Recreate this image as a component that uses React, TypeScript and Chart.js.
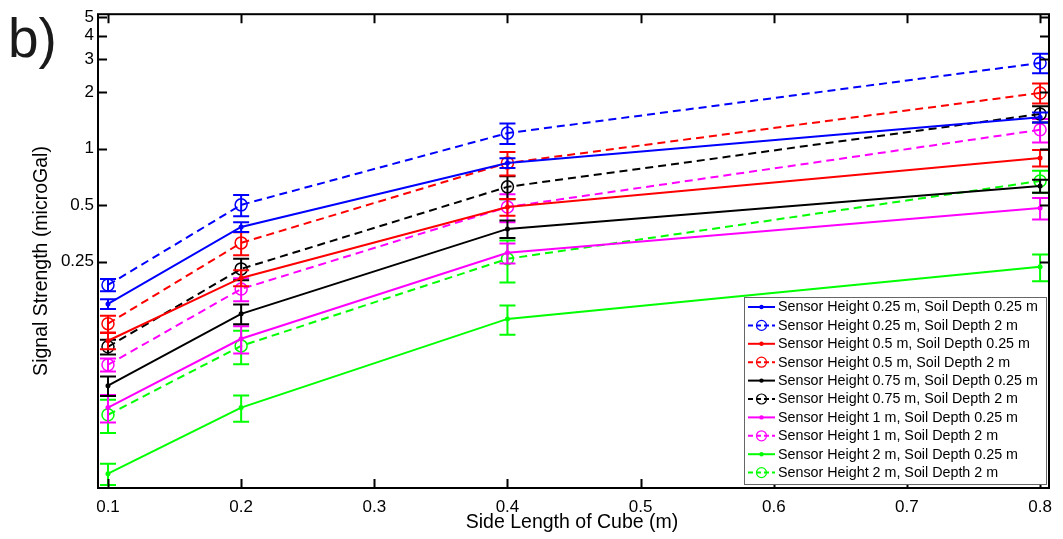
import React, { useEffect, useRef } from "react";
import { Chart, registerables } from "chart.js";

Chart.register(...registerables);

// ---------- data ----------
const xValues = [0.1, 0.2, 0.4, 0.8];
const xTicks = [0.1, 0.2, 0.3, 0.4, 0.5, 0.6, 0.7, 0.8];
const yTicks = [0.25, 0.5, 1, 2, 3, 4, 5];

const seriesLabels = [
  "Sensor Height 0.25 m, Soil Depth 0.25 m",
  "Sensor Height 0.25 m, Soil Depth 2 m",
  "Sensor Height 0.5 m, Soil Depth 0.25 m",
  "Sensor Height 0.5 m, Soil Depth 2 m",
  "Sensor Height 0.75 m, Soil Depth 0.25 m",
  "Sensor Height 0.75 m, Soil Depth 2 m",
  "Sensor Height 1 m, Soil Depth 0.25 m",
  "Sensor Height 1 m, Soil Depth 2 m",
  "Sensor Height 2 m, Soil Depth 0.25 m",
  "Sensor Height 2 m, Soil Depth 2 m",
];

const h025_d025 = [0.149, 0.383, 0.839, 1.47];
const h025_d2 = [0.188, 0.502, 1.21, 2.86];
const h05_d025 = [0.0949, 0.205, 0.489, 0.893];
const h05_d2 = [0.117, 0.315, 0.839, 1.98];
const h075_d025 = [0.0547, 0.132, 0.374, 0.633];
const h075_d2 = [0.0881, 0.229, 0.626, 1.53];
const h1_d025 = [0.0418, 0.0972, 0.279, 0.483];
const h1_d2 = [0.0707, 0.179, 0.489, 1.26];
const h2_d025 = [0.0186, 0.0418, 0.124, 0.235];
const h2_d2 = [0.0383, 0.0891, 0.259, 0.673];

const h025_d025_err = [0.009, 0.023, 0.05, 0.09];
const h025_d2_err = [0.014, 0.065, 0.15, 0.34];
const h05_d025_err = [0.0095, 0.02, 0.05, 0.09];
const h05_d2_err = [0.012, 0.044, 0.12, 0.24];
const h075_d025_err = [0.0065, 0.016, 0.04, 0.05];
const h075_d2_err = [0.008, 0.03, 0.088, 0.15];
const h1_d025_err = [0.007, 0.016, 0.034, 0.063];
const h1_d2_err = [0.0057, 0.025, 0.083, 0.18];
const h2_d025_err = [0.0024, 0.0067, 0.022, 0.038];
const h2_d2_err = [0.0077, 0.018, 0.065, 0.09];

const seriesValues = [h025_d025, h025_d2, h05_d025, h05_d2, h075_d025, h075_d2, h1_d025, h1_d2, h2_d025, h2_d2];
const seriesErrors = [
  h025_d025_err, h025_d2_err, h05_d025_err, h05_d2_err, h075_d025_err,
  h075_d2_err, h1_d025_err, h1_d2_err, h2_d025_err, h2_d2_err,
];

// ---------- style ----------
const seriesColors = ["#0000ff", "#0000ff", "#ff0000", "#ff0000", "#000000", "#000000", "#ff00ff", "#ff00ff", "#00ff00", "#00ff00"];
const seriesDashed = [false, true, false, true, false, true, false, true, false, true];
const FONT = '"Liberation Sans", Arial, sans-serif';

const errorBarPlugin = {
  id: "errorBars",
  afterDatasetDraw(chart: any, args: any) {
    const i = args.index;
    const meta = args.meta;
    const ctx = chart.ctx;
    const ys = chart.scales.y;
    ctx.save();
    ctx.strokeStyle = seriesColors[i];
    ctx.lineWidth = 2;
    ctx.setLineDash([]);
    meta.data.forEach((pt: any, j: number) => {
      const v = seriesValues[i][j];
      const e = seriesErrors[i][j];
      const yTop = ys.getPixelForValue(v + e);
      const yBot = ys.getPixelForValue(v - e);
      const x = pt.x;
      ctx.beginPath();
      ctx.moveTo(x, yTop);
      ctx.lineTo(x, yBot);
      ctx.moveTo(x - 8, yTop);
      ctx.lineTo(x + 8, yTop);
      ctx.moveTo(x - 8, yBot);
      ctx.lineTo(x + 8, yBot);
      ctx.stroke();
    });
    ctx.restore();
  },
};

const framePlugin = {
  id: "frame",
  afterDraw(chart: any) {
    const ctx = chart.ctx;
    const { left, right, top, bottom } = chart.chartArea;
    const xs = chart.scales.x;
    const ys = chart.scales.y;
    ctx.save();
    ctx.setLineDash([]);
    ctx.strokeStyle = "#000";
    ctx.lineWidth = 2;
    ctx.strokeRect(left, top, right - left, bottom - top);
    const tl = 9;
    ctx.beginPath();
    yTicks.forEach((v) => {
      const py = Math.round(ys.getPixelForValue(v)) + 0.5;
      ctx.moveTo(left, py);
      ctx.lineTo(left + tl, py);
      ctx.moveTo(right, py);
      ctx.lineTo(right - tl, py);
    });
    xTicks.forEach((v) => {
      const px = Math.round(xs.getPixelForValue(v)) + 0.5;
      ctx.moveTo(px, bottom);
      ctx.lineTo(px, bottom - tl);
      ctx.moveTo(px, top);
      ctx.lineTo(px, top + tl);
    });
    ctx.stroke();

    // legend
    const lx = 744, ly = 297, lw = 302, lh = 187;
    ctx.fillStyle = "#fff";
    ctx.fillRect(lx, ly, lw, lh);
    ctx.strokeStyle = "#666";
    ctx.lineWidth = 1;
    ctx.strokeRect(lx + 0.5, ly + 0.5, lw, lh);
    ctx.font = `14.3px ${FONT}`;
    ctx.textBaseline = "middle";
    ctx.textAlign = "left";
    seriesLabels.forEach((lab, i) => {
      const cy = 307 + i * 18.4;
      const c = seriesColors[i];
      ctx.strokeStyle = c;
      ctx.fillStyle = c;
      ctx.lineWidth = 2;
      if (seriesDashed[i]) {
        ctx.setLineDash([5, 3]);
      } else {
        ctx.setLineDash([]);
      }
      ctx.beginPath();
      ctx.moveTo(748, cy);
      ctx.lineTo(775, cy);
      ctx.stroke();
      ctx.setLineDash([]);
      if (seriesDashed[i]) {
        ctx.lineWidth = 1.2;
        ctx.beginPath();
        ctx.arc(761.5, cy, 5, 0, Math.PI * 2);
        ctx.stroke();
      } else {
        ctx.beginPath();
        ctx.arc(761.5, cy, 2.2, 0, Math.PI * 2);
        ctx.fill();
      }
      ctx.fillStyle = "#000";
      ctx.fillText(lab, 778, cy + 0.5);
    });

    // axis titles
    ctx.fillStyle = "#000";
    ctx.font = `19.5px ${FONT}`;
    ctx.textAlign = "center";
    ctx.textBaseline = "middle";
    ctx.fillText("Side Length of Cube (m)", 572, 523);
    ctx.save();
    ctx.translate(42, 261);
    ctx.rotate(-Math.PI / 2);
    ctx.fillText("Signal Strength (microGal)", 0, 0);
    ctx.restore();

    // panel label
    ctx.fillStyle = "#1a1a1a";
    ctx.font = `55px ${FONT}`;
    ctx.textAlign = "left";
    ctx.textBaseline = "alphabetic";
    ctx.fillText("b)", 8, 57);
    ctx.restore();
  },
};

export default function App() {
  const ref = useRef<HTMLCanvasElement | null>(null);
  useEffect(() => {
    if (!ref.current) return;
    const datasets = seriesLabels.map((label, i) => ({
      label,
      data: xValues.map((x, j) => ({ x, y: seriesValues[i][j] })),
      borderColor: seriesColors[i],
      backgroundColor: seriesColors[i],
      borderWidth: 2,
      borderDash: seriesDashed[i] ? [8, 5] : [],
      pointRadius: seriesDashed[i] ? 6 : 2.5,
      pointBorderWidth: seriesDashed[i] ? 1.5 : 0,
      pointBorderColor: seriesColors[i],
      pointBackgroundColor: seriesDashed[i] ? "rgba(0,0,0,0)" : seriesColors[i],
      pointStyle: "circle",
      tension: 0,
      fill: false,
    }));
    const chart = new Chart(ref.current, {
      type: "line",
      data: { datasets },
      options: {
        animation: false,
        responsive: false,
        devicePixelRatio: 1,
        layout: { padding: { left: 0, top: 12, right: 14, bottom: 0 } },
        plugins: { legend: { display: false }, tooltip: { enabled: false } },
        scales: {
          x: {
            type: "linear",
            min: 0.0925,
            max: 0.8067,
            grid: { display: false, drawTicks: false, tickLength: 0 },
            border: { display: false },
            afterBuildTicks: (s: any) => {
              s.ticks = xTicks.map((v) => ({ value: v }));
            },
            afterFit: (s: any) => {
              s.height = 51;
            },
            ticks: {
              autoSkip: false,
              maxRotation: 0,
              padding: 9,
              color: "#000",
              font: { size: 17, family: FONT },
              callback: (v: any) => Number(v).toFixed(1),
            },
          },
          y: {
            type: "logarithmic",
            min: 0.0156,
            max: 5.2,
            grid: { display: false, drawTicks: false, tickLength: 0 },
            border: { display: false },
            afterBuildTicks: (s: any) => {
              s.ticks = yTicks.map((v) => ({ value: v }));
            },
            afterFit: (s: any) => {
              s.width = 98;
            },
            ticks: {
              autoSkip: false,
              padding: 4,
              color: "#000",
              font: { size: 17, family: FONT },
              callback: (v: any) => String(v),
            },
          },
        },
      } as any,
      plugins: [errorBarPlugin, framePlugin],
    });
    return () => chart.destroy();
  }, []);
  return (
    <div style={{ position: "absolute", left: 0, top: 0, width: 1063, height: 539, background: "#fff" }}>
      <canvas ref={ref} width={1063} height={539} style={{ width: 1063, height: 539 }} />
    </div>
  );
}
